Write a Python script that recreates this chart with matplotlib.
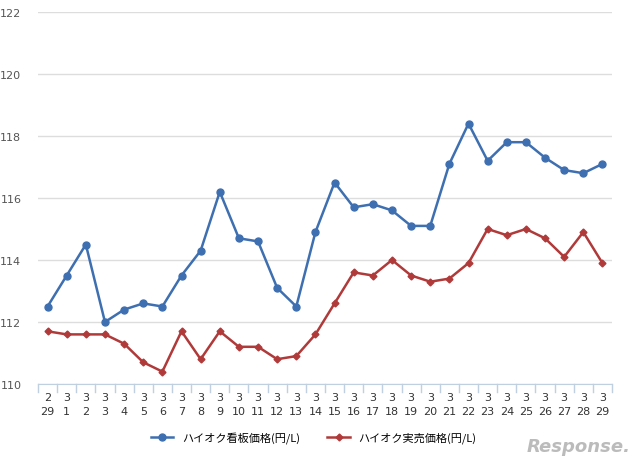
import matplotlib
matplotlib.use("Agg")
import matplotlib.pyplot as plt
import numpy as np

months = ["2"] + ["3"] * 29
days = ["29"] + [str(d) for d in range(1, 30)]
board = [112.5,113.5,114.5,112.0,112.4,112.6,112.5,113.5,114.3,116.2,114.7,114.6,113.1,112.5,114.9,
         116.5,115.7,115.8,115.6,115.1,115.1,117.1,118.4,117.2,117.8,117.8,117.3,116.9,116.8,117.1]
actual = [111.7,111.6,111.6,111.6,111.3,110.7,110.4,111.7,110.8,111.7,111.2,111.2,110.8,110.9,111.6,
          112.6,113.6,113.5,114.0,113.5,113.3,113.4,113.9,115.0,114.8,115.0,114.7,114.1,114.9,113.9]
yticks = [110, 112, 114, 116, 118, 120, 122]

fig = plt.figure(figsize=(6.4, 4.64), dpi=100)
ax = fig.add_axes([38/640, 1-385/464, 574/640, 372/464])
x = np.arange(len(days))
ax.plot(x, board, color="#3e6fb0", marker="o", markersize=5, lw=1.8, label="ハイオク看板価格(円/L)")
ax.plot(x, actual, color="#b03a3a", marker="D", markersize=3.5, lw=1.8, label="ハイオク実売価格(円/L)")
ax.set_xlim(-0.5, len(days) - 0.5)
ax.set_ylim(110, 122)
ax.set_yticks(yticks)
ax.set_yticklabels([str(v) for v in yticks], fontsize=8, color="#555555")
ax.grid(axis="y", color="#dddddd", lw=1)
ax.set_axisbelow(True)
ax.set_xticks(x)
ax.set_xticklabels([f"{m}\n{d}" for m, d in zip(months, days)], fontsize=8, color="#333333", linespacing=1.5)
ax.tick_params(axis="x", length=0, pad=6)
ax.tick_params(axis="y", length=0, pad=12)
for b in np.arange(-0.5, len(days), 1):
    ax.plot([b, b], [110, 109.75], color="#c0d0e0", lw=1, clip_on=False)
for s in ["top", "right", "left"]:
    ax.spines[s].set_visible(False)
ax.spines["bottom"].set_color("#c0d0e0")
fig.legend(loc="center", bbox_to_anchor=(0.49, 1-438/464), ncol=2, frameon=False,
           prop={"family": "Noto Sans CJK JP", "size": 8}, columnspacing=2.5, handlelength=2)
fig.text(0.985, 0.025, "Response.", ha="right", fontsize=13, color="#bbbbbb", style="italic", fontweight="bold")
fig.savefig("out.png", dpi=100)
